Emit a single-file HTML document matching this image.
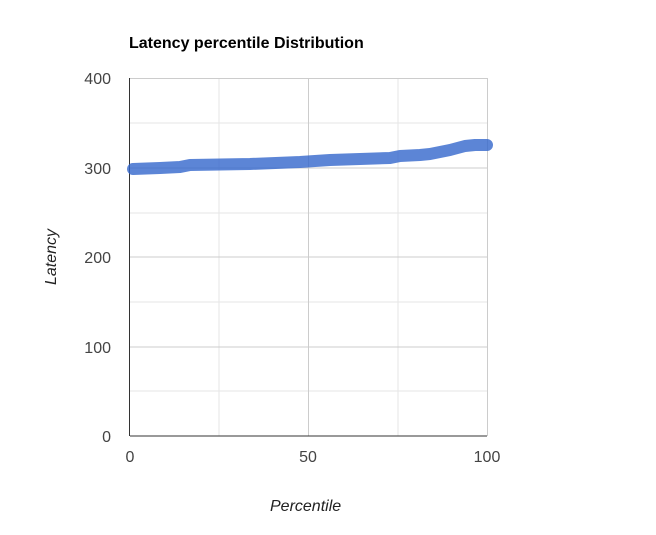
<!DOCTYPE html><html><head><style>body{margin:0;background:#fff}</style></head><body>
<svg width="656" height="530" xmlns="http://www.w3.org/2000/svg" font-family="Liberation Sans, Arial, sans-serif">
<rect width="656" height="530" fill="#fff"/>
<text x="129" y="48" font-size="16" font-weight="bold" fill="#000">Latency percentile Distribution</text>
<g stroke="#e6e6e6" stroke-width="1">
<line x1="130" y1="123" x2="487" y2="123"/><line x1="130" y1="213" x2="487" y2="213"/>
<line x1="130" y1="302" x2="487" y2="302"/><line x1="130" y1="391" x2="487" y2="391"/>
<line x1="219" y1="78" x2="219" y2="436"/><line x1="398" y1="78" x2="398" y2="436"/>
</g>
<g stroke="#cccccc" stroke-width="1">
<line x1="130" y1="78.5" x2="487" y2="78.5"/><line x1="130" y1="168" x2="487" y2="168"/>
<line x1="130" y1="257" x2="487" y2="257"/><line x1="130" y1="347" x2="487" y2="347"/>
<line x1="308.5" y1="78" x2="308.5" y2="436"/><line x1="487.5" y1="78" x2="487.5" y2="436"/>
</g>
<line x1="130" y1="436" x2="487" y2="436" stroke="#333"/>
<line x1="129.5" y1="78" x2="129.5" y2="436" stroke="#333"/>
<g font-size="16" fill="#444" text-anchor="end">
<text x="111" y="84">400</text><text x="111" y="174">300</text><text x="111" y="263">200</text><text x="111" y="353">100</text><text x="111" y="442">0</text>
</g>
<g font-size="16" fill="#444" text-anchor="middle">
<text x="130" y="462">0</text><text x="308" y="462">50</text><text x="487" y="462">100</text>
</g>
<text x="270" y="511" font-size="16" font-style="italic" fill="#222">Percentile</text>
<text transform="translate(56,257) rotate(-90)" font-size="16" font-style="italic" fill="#222" text-anchor="middle">Latency</text>
<polyline fill="none" stroke="#3366cc" stroke-opacity="0.8" stroke-width="12" stroke-linecap="round" stroke-linejoin="round"
points="133,169 160,168 180,167 190,165 250,164 300,162 330,160 360,159 390,158 400,156 420,155 430,154 440,152 450,150 465,146 475,145 487,145"/>
</svg>
</body></html>
